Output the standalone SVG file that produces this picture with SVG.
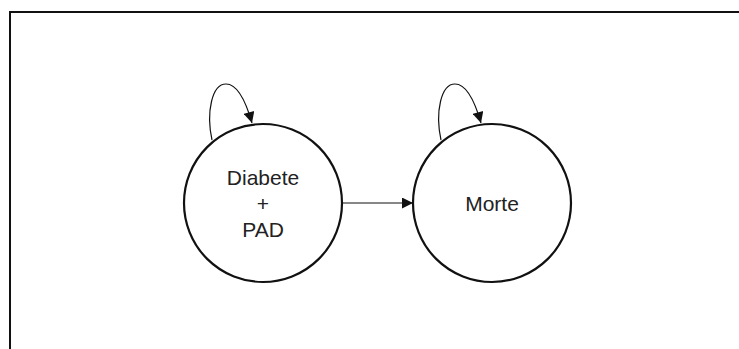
<svg xmlns="http://www.w3.org/2000/svg" width="739" height="349" viewBox="0 0 739 349">
<style>
.node{fill:#fff;stroke:#111;stroke-width:2.2}
.lbl{font-family:"Liberation Sans",Arial,sans-serif;font-size:21px;fill:#222;text-anchor:middle}
.edge{fill:none;stroke:#111;stroke-width:1.2}
</style>
<defs>
<marker id="ah" viewBox="0 0 10 10" refX="10" refY="5" markerWidth="13" markerHeight="11" markerUnits="userSpaceOnUse" orient="auto">
<path d="M0,0 L10,5 L0,10 Z" fill="#111"/>
</marker>
</defs>
<rect x="0" y="0" width="739" height="349" fill="#fff"/>
<rect x="10" y="12" width="740" height="350" fill="none" stroke="#111" stroke-width="2"/>
<g id="node-diabete">
<circle class="node" cx="263" cy="203" r="79"/>
<text class="lbl" x="263" y="185">Diabete</text>
<text class="lbl" x="263" y="211">+</text>
<text class="lbl" x="263" y="237">PAD</text>
</g>
<g id="node-morte">
<circle class="node" cx="492" cy="203" r="79"/>
<text class="lbl" x="492" y="211">Morte</text>
</g>
<g id="connectors">
<path class="edge" d="M212,140 C206,112 212,84 226,84 C237,84 246,102 252,123" marker-end="url(#ah)"/>
<path class="edge" d="M441,140 C435,112 441,84 455,84 C466,84 475,102 481,123" marker-end="url(#ah)"/>
<path class="edge" d="M342,203 L413,203" marker-end="url(#ah)"/>
</g>
</svg>
